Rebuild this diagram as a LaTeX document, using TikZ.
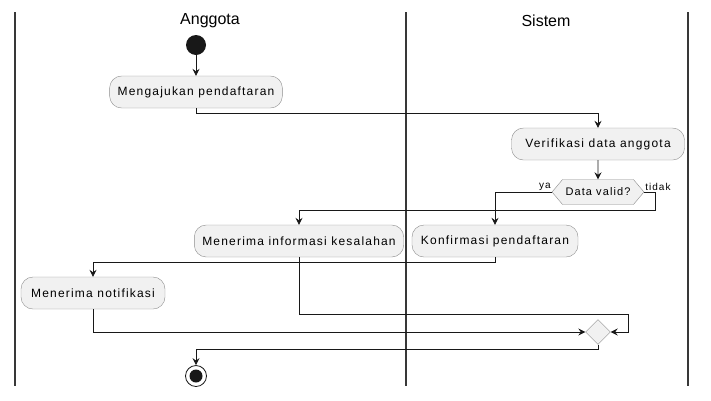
\documentclass[tikz,border=0pt]{standalone}
\usepackage{fontspec}
\setmainfont{Liberation Sans}
\newfontfamily\boxfont[LetterSpace=10]{Liberation Sans}
\usetikzlibrary{arrows.meta, shapes.geometric, shapes.symbols, positioning}
\definecolor{ActFill}{HTML}{F1F1F1}
\definecolor{LineCol}{HTML}{181818}
\definecolor{EdgeCol}{HTML}{8C8C8C}
\definecolor{LaneCol}{HTML}{383838}

\begin{document}
\begin{tikzpicture}[
x=1pt, y=-1pt,
act/.style={
	rectangle,
	rounded corners=12pt,
	draw=EdgeCol,
	fill=ActFill,
	minimum height=32pt,
	inner xsep=8pt,
	font=\boxfont\fontsize{12}{14}\selectfont,
	text=black},
decide/.style={
	signal,
	signal to=west and east,
	signal pointer angle=100,
	draw=EdgeCol,
	fill=ActFill,
	minimum height=25pt,
	inner xsep=3pt,
	font=\boxfont\fontsize{11}{13}\selectfont},
merge/.style={
	diamond,
	draw=EdgeCol,
	fill=ActFill,
	minimum size=25pt,
	inner sep=0pt},
post/.style={
	-{Stealth[length=7pt,width=7pt,inset=2.5pt]},
	draw=LineCol,
	line width=0.8pt},
lane/.style={
	draw=LaneCol,
	line width=1.6pt},
head/.style={
	font=\fontsize{16}{18}\selectfont},
tag/.style={
	font=\boxfont\fontsize{10}{12}\selectfont,
	inner sep=1pt}]

\useasboundingbox (0,0) rectangle (711,400);

%Swimlanes
\draw[lane] (15,12) -- (15,386);
\draw[lane] (406,12) -- (406,386);
\draw[lane] (688,12) -- (688,386);
\node[head] (anggota) at (210,21) {Anggota};
\node[head] (sistem) at (546,21) {Sistem};

%Start and end
\node[circle, fill=LineCol, minimum size=20pt, inner sep=0pt] (start) at (196,45) {};
\node[circle, draw=LineCol, line width=0.8pt, fill=white, minimum size=21pt, inner sep=0pt] (endo) at (196,376) {};
\node[circle, fill=LineCol, minimum size=13pt, inner sep=0pt] (endi) at (endo) {};

%Activities
\node[act, minimum width=170pt] (ajukan) at (196,92) {Mengajukan pendaftaran};
\node[act, minimum width=173pt] (verif) at (598,144) {Verifikasi data anggota};
\node[decide] (cek) at (598,192) {Data valid?};
\node[act, minimum width=206pt] (salah) at (299,241) {Menerima informasi kesalahan};
\node[act, minimum width=166pt] (konf) at (495,241) {Konfirmasi pendaftaran};
\node[act, minimum width=144pt] (notif) at (93,293) {Menerima notifikasi};
\node[merge] (gabung) at (598,332) {};

\coordinate (jr) at (628,314);

%Flows
\path[post] (start) -- (ajukan);
\path[post] (ajukan.south) -- ++(0,5) -| (verif.north);
\path[post] (verif) -- (cek);
\path[post] (cek.west) -| (konf.north);
\path[post] (cek.east) -- ++(11,0) -- ++(0,18) -| (salah.north);
\path[post] (konf.south) -- ++(0,5) -| (notif.north);
\path[post] (salah.south) |- (jr) |- (gabung.east);
\path[post] (notif.south) |- (gabung.west);
\path[post] (gabung.south) -- ++(0,5) -| (endo.north);

\node[tag, anchor=south east] (ya) at (cek.west) {ya};
\node[tag, anchor=south west] (tidak) at (cek.east) {tidak};

\end{tikzpicture}
\end{document}
